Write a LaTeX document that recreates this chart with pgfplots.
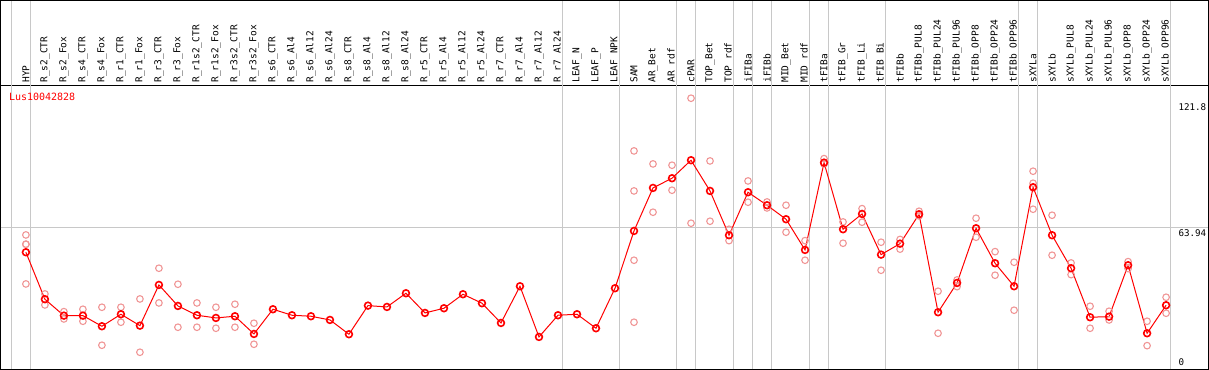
\documentclass[border=0pt]{standalone}
\usepackage{pgfplots}
\pgfplotsset{compat=1.18}
\usepackage{pgfplotstable}
\usepackage{fontspec}
\setmainfont{DejaVu Sans Mono}
\definecolor{gridgray}{RGB}{200,200,200}
\definecolor{reppink}{RGB}{240,150,150}
\definecolor{meanred}{RGB}{255,0,0}

\pgfplotstableread{
x y
1 52.75
2 31.18
3 23.65
4 23.65
5 18.78
6 24.29
7 19.05
8 37.74
9 28.10
10 23.83
11 22.59
12 23.37
13 15.24
14 26.58
15 23.83
16 23.37
17 21.67
18 15.11
19 28.24
20 27.64
21 33.93
22 24.89
23 27.04
24 33.47
25 29.34
26 20.29
27 37.14
28 13.87
29 23.83
30 24.29
31 17.86
32 36.23
33 62.53
34 82.28
35 86.73
36 95.00
37 80.90
38 60.56
39 80.30
40 74.33
41 67.91
42 53.81
43 93.89
44 63.31
45 70.34
46 51.65
47 56.70
48 70.20
49 25.21
50 38.66
51 63.77
52 47.70
53 37.14
54 82.60
55 60.56
56 45.41
57 22.91
58 23.19
59 46.79
60 15.56
61 28.42
}\meandata

\pgfplotstableread{
x y
1 60.70
1 56.43
1 56.43
1 38.20
2 33.61
2 28.56
3 25.48
3 22.13
4 26.58
4 21.07
5 27.50
5 10.06
6 27.50
6 20.62
7 31.31
7 6.84
8 45.41
8 29.48
9 38.06
9 18.32
10 29.48
10 18.32
11 27.50
11 17.86
12 28.88
12 18.32
13 20.16
13 10.51
33 99.27
33 80.90
33 49.08
33 20.62
34 93.30
34 71.12
35 92.70
35 81.22
36 123.46
36 66.07
37 94.67
37 66.99
38 63.31
38 58.08
39 85.49
39 75.71
40 75.85
40 73.09
41 74.33
41 61.94
42 58.08
42 49.08
43 95.73
43 93.30
44 66.67
44 56.89
45 72.77
45 66.53
46 57.35
46 44.49
47 58.63
47 54.18
48 71.58
48 69.42
49 34.85
49 15.56
50 40.04
50 36.96
51 68.37
51 59.64
52 53.03
52 42.20
53 48.16
53 26.13
54 89.95
54 84.43
54 72.50
55 69.74
55 51.38
56 47.84
56 42.47
57 27.96
57 17.86
58 25.67
58 21.67
59 48.44
59 45.23
60 21.07
60 9.87
61 32.09
61 24.75
}\repdata

\begin{document}
\begin{tikzpicture}
\begin{axis}[
  scale only axis,
  width=1207.5pt, height=283.5pt,
  xmin=-0.329, xmax=63.224,
  ymin=-0.94, ymax=129.23,
  clip=false,
  axis line style={line width=1.3pt},
  major tick length=0pt,
  xtick={1,...,61},
  xticklabel pos=upper,
  xticklabels={HYP,R\_s2\_CTR,R\_s2\_Fox,R\_s4\_CTR,R\_s4\_Fox,R\_r1\_CTR,R\_r1\_Fox,R\_r3\_CTR,R\_r3\_Fox,R\_r1s2\_CTR,R\_r1s2\_Fox,R\_r3s2\_CTR,R\_r3s2\_Fox,R\_s6\_CTR,R\_s6\_Al4,R\_s6\_Al12,R\_s6\_Al24,R\_s8\_CTR,R\_s8\_Al4,R\_s8\_Al12,R\_s8\_Al24,R\_r5\_CTR,R\_r5\_Al4,R\_r5\_Al12,R\_r5\_Al24,R\_r7\_CTR,R\_r7\_Al4,R\_r7\_Al12,R\_r7\_Al24,LEAF\_N,LEAF\_P,LEAF\_NPK,SAM,AR\_Bet,AR\_rdf,cPAR,TOP\_Bet,TOP\_rdf,iFIBa,iFIBb,MID\_Bet,MID\_rdf,tFIBa,tFIB\_Gr,tFIB\_Li,tFIB\_Bi,tFIBb,tFIBb\_PUL8,tFIBb\_PUL24,tFIBb\_PUL96,tFIBb\_OPP8,tFIBb\_OPP24,tFIBb\_OPP96,sXYLa,sXYLb,sXYLb\_PUL8,sXYLb\_PUL24,sXYLb\_PUL96,sXYLb\_OPP8,sXYLb\_OPP24,sXYLb\_OPP96},
  xticklabel style={rotate=90, anchor=west, inner sep=3pt, font=\fontsize{9.5}{10}\selectfont},
  ytick={63.94,121.8},
  yticklabels={63.94,121.8},
  yticklabel pos=right,
  yticklabel style={anchor=north west, inner sep=0pt, xshift=-30pt, yshift=-1.3pt, font=\fontsize{9.2}{10}\selectfont},
  extra y ticks={0},
  extra y tick labels={0},
  extra y tick style={yticklabel style={anchor=south west, yshift=2.3pt}},
]
% separators and reference line
\pgfplotsinvokeforeach{0.25,1.25,29.25,32.25,35.25,36.25,38.25,39.25,40.25,42.25,43.25,46.25,53.25,54.25,61.25}{
  \draw[gridgray, line width=1pt] (axis cs:#1,-0.94) -- (axis cs:#1,168.26);
}
\draw[gridgray, line width=1pt] (axis cs:-0.329,63.94) -- (axis cs:63.224,63.94);
% outer frame around label area
\draw[black, line width=1.3pt] (rel axis cs:0,1) -- (rel axis cs:0,1.2998) -- (rel axis cs:1,1.2998) -- (rel axis cs:1,1);
\node[anchor=north west, text=meanred, inner sep=0pt, font=\fontsize{10}{11}\selectfont] at (axis cs:0.1,125.8) {Lus10042828};
% replicates
\addplot[only marks, mark=o, mark size=3.3pt, mark options={draw=reppink, line width=1.1pt}] table[x=x,y=y] {\repdata};
% means
\addplot[meanred, line width=1pt, mark=o, mark size=3.4pt, mark options={draw=meanred, line width=1.6pt}] table[x=x,y=y] {\meandata};
\end{axis}
\end{tikzpicture}
\end{document}
